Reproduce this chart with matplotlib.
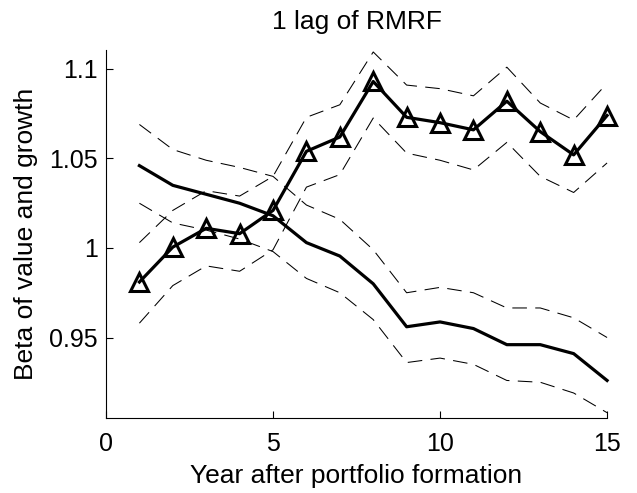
import matplotlib
matplotlib.use("Agg")
import matplotlib.pyplot as plt

# years after formation
years = list(range(1, 16))

# value portfolio beta (solid line) and its band
value_beta = [1.046, 1.035, 1.030, 1.025, 1.018, 1.003, 0.9955, 0.980,
              0.956, 0.9587, 0.955, 0.946, 0.946, 0.941, 0.926]
value_upper = [1.069, 1.055, 1.049, 1.045, 1.040, 1.024, 1.016, 0.999,
               0.975, 0.978, 0.975, 0.9665, 0.9665, 0.961, 0.950]
value_lower = [1.025, 1.014, 1.010, 1.005, 0.998, 0.983, 0.975, 0.960,
               0.936, 0.9385, 0.935, 0.926, 0.925, 0.919, 0.908]

# growth portfolio beta (triangles) and its band
growth_beta = [0.981, 1.0005, 1.011, 1.008, 1.021, 1.054, 1.062, 1.093,
               1.073, 1.070, 1.066, 1.082, 1.065, 1.052, 1.074]
growth_upper = [1.003, 1.021, 1.032, 1.029, 1.040, 1.073, 1.080, 1.1095,
                1.091, 1.089, 1.085, 1.101, 1.081, 1.0715, 1.092]
growth_lower = [0.958, 0.979, 0.990, 0.987, 0.999, 1.034, 1.041, 1.0726,
                1.053, 1.049, 1.0436, 1.059, 1.040, 1.031, 1.0475]

plt.rcParams['font.family'] = ['Liberation Sans', 'DejaVu Sans']

fig = plt.figure(figsize=(6.37, 4.93), dpi=100)
ax = fig.add_axes([0.1664, 0.152, 0.7866, 0.7466])

# dashed bands
for band in [value_upper, value_lower, growth_upper, growth_lower]:
    ax.plot(years, band, color="black", linewidth=0.75, dashes=(14, 8),
            clip_on=False)

ax.plot(years, value_beta, color="black", linewidth=2.3, clip_on=False)
ax.plot(years, growth_beta, color="black", linewidth=2.3, marker="^",
        markersize=13, markerfacecolor="none", markeredgewidth=2.2,
        clip_on=False)

ax.set_xlim(0, 15)
ax.set_ylim(0.905, 1.1106)
ax.set_xticks([0, 5, 10, 15])
ax.set_yticks([0.95, 1.0, 1.05, 1.1])
ax.set_yticklabels(["0.95", "1", "1.05", "1.1"])
ax.tick_params(direction="in", length=5, labelsize=18, width=0.8)
ax.tick_params(axis="x", pad=10)
ax.tick_params(axis="y", pad=6)
ax.spines["top"].set_visible(False)
ax.spines["right"].set_visible(False)

ax.set_title("1 lag of RMRF", fontsize=19, pad=15)
ax.set_xlabel("Year after portfolio formation", fontsize=19, labelpad=6)
ax.set_ylabel("Beta of value and growth", fontsize=19, labelpad=8)

fig.savefig("out.png", dpi=100)
